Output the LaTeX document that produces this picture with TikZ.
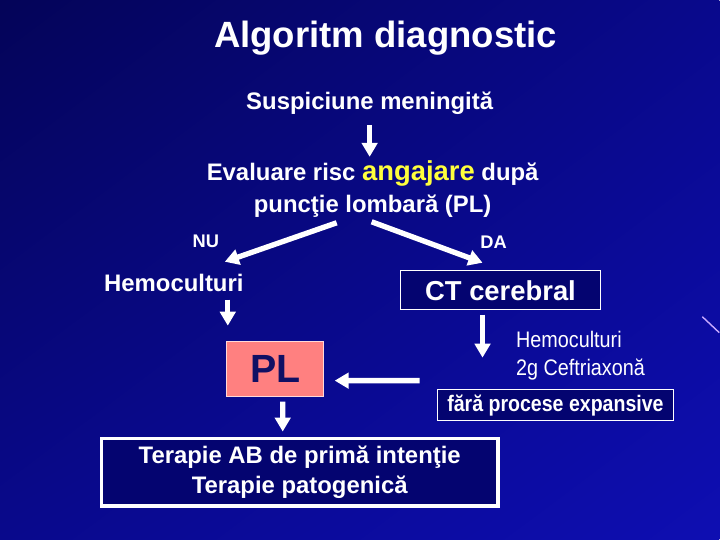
\documentclass[tikz,border=0pt]{standalone}
\usepackage{fontspec}
\setmainfont{Liberation Sans}
\usepackage{graphicx}
\definecolor{bgdark}{RGB}{4,4,88}
\definecolor{bgmid}{RGB}{9,9,140}
\definecolor{bglight}{RGB}{14,14,178}
\definecolor{boxnavy}{RGB}{4,4,112}
\definecolor{plsalmon}{RGB}{255,128,128}
\definecolor{plnavy}{RGB}{16,16,100}
\definecolor{angyellow}{RGB}{255,255,60}
\definecolor{streak}{RGB}{200,170,255}
\usetikzlibrary{arrows.meta,positioning,calc,shadings}

\tikzset{
  lbl/.style={text=white, inner sep=1pt, align=center},
  navybox/.style={draw=white, fill=boxnavy, line width=0.8pt, inner sep=0pt},
  bigarrow/.style={white, line width=3.8pt, -{Triangle[length=10pt,width=11pt]}},
}

\begin{document}
\begin{tikzpicture}[x=0.025cm, y=-0.025cm]
  % Background
  \shade[upper left=bgdark, upper right=bgmid, lower left=bgmid, lower right=bglight] (0,0) rectangle (720,540);
  \draw[streak, line width=1pt] (703,317) -- (720,333);

  % Title
  \node[lbl, font=\fontsize{26}{31}\selectfont\bfseries] (title) at (386,38) {Algoritm diagnostic};

  % Top of the algorithm
  \node[lbl, font=\fontsize{17}{20}\selectfont\bfseries] (susp) at (370,103) {Suspiciune meningită};
  \node[lbl, font=\fontsize{17}{22.7}\selectfont\bfseries] (evalrisc) at (373,189)
    {Evaluare risc {\fontsize{19.5}{22.7}\selectfont\color{angyellow}angajare} după\\puncţie lombară (PL)};
  \node[lbl, font=\fontsize{13}{15}\selectfont\bfseries] (nu) at (206,242) {NU};
  \node[lbl, font=\fontsize{13}{15}\selectfont\bfseries] (da) at (494,242) {DA};

  % Left branch: NU
  \node[lbl, font=\fontsize{17}{20}\selectfont\bfseries] (hemo) at (174,283) {Hemoculturi};
  \node[draw=white!70!plsalmon, fill=plsalmon, line width=0.8pt, minimum width=2.425cm, minimum height=1.375cm,
        text=plnavy, font=\fontsize{28}{32}\selectfont\bfseries] (pl) at (275.5,369.5) {PL};

  % Right branch: DA
  \node[navybox, minimum width=5cm, minimum height=0.975cm, text=white,
        font=\fontsize{19.5}{23}\selectfont\bfseries] (ct) at (501,290.5) {CT cerebral};
  \node[lbl, anchor=west, align=left, font=\fontsize{16}{20.6}\selectfont] (ceftri) at (515,356)
    {\scalebox{0.88}[1]{Hemoculturi}\\\scalebox{0.88}[1]{2g Ceftriaxonă}};
  \node[navybox, minimum width=5.9cm, minimum height=0.775cm, text=white,
        font=\fontsize{16}{19}\selectfont\bfseries] (fara) at (556,405.5) {\scalebox{0.87}[1]{fără procese expansive}};

  % Therapy
  \node[navybox, line width=2.5pt, minimum width=9.91cm, minimum height=1.69cm, text=white, align=center,
        font=\fontsize{17}{21.3}\selectfont\bfseries] (terapie) at (300,472.5)
    {Terapie AB de primă intenţie\\Terapie patogenică};

  % Arrows
  \draw[bigarrow] ([shift={(0,22)}]susp.center) -- ([shift={(-3,-32)}]evalrisc.center);
  \draw[bigarrow] ([shift={(-36,34)}]evalrisc.center) -- ([shift={(51,-21)}]hemo.center);
  \draw[bigarrow] ([shift={(-1,33)}]evalrisc.center) -- ([shift={(-18,-27.5)}]ct.center);
  \draw[bigarrow] ([shift={(54,17)}]hemo.center) -- ([shift={(-47.5,-43.5)}]pl.center);
  \draw[bigarrow] ([shift={(-18,24.5)}]ct.center) -- ([shift={(-73,-47.5)}]fara.center);
  \draw[bigarrow] ([shift={(-136,-24.5)}]fara.center) -- ([shift={(59.5,11.5)}]pl.center);
  \draw[bigarrow] ([shift={(7.5,32.5)}]pl.center) -- ([shift={(-17,-40.5)}]terapie.center);
\end{tikzpicture}
\end{document}
